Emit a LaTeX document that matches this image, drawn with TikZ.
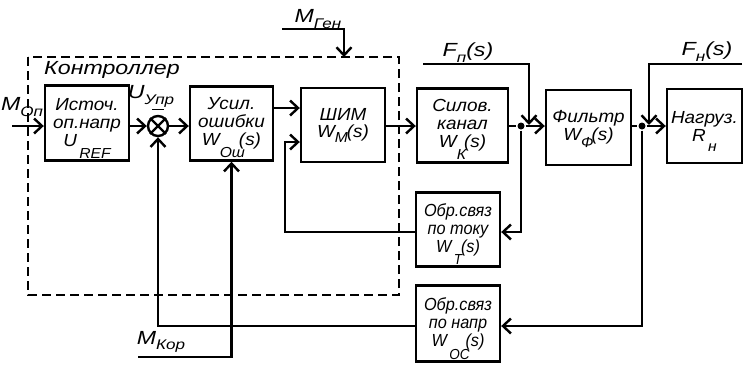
\documentclass[tikz,border=0pt]{standalone}
\usepackage{fontspec}
\newfontfamily\df{Liberation Sans}[ItalicFeatures={FakeStretch=1.08}]
\newfontfamily\dfn{Liberation Sans}[ItalicFeatures={FakeStretch=0.93}]
\newfontfamily\lf{Liberation Sans}[ItalicFeatures={FakeStretch=1.22}]
\usetikzlibrary{arrows.meta}
\newcommand\lsub[3]{#2\raisebox{-#1}[0pt][0pt]{\fontsize{14.5}{14.5}\selectfont #3}}
\newcommand\lbsub[3]{#2\raisebox{-#1}[0pt][0pt]{\fontsize{14}{14}\selectfont #3}}
\begin{document}
\begin{tikzpicture}[x=1pt,y=-1pt,line width=2.4pt,
  every node/.style={font=\df\itshape\fontsize{17.5}{18}\selectfont, inner sep=0pt},
  blk/.style={draw, minimum width=84pt, minimum height=75pt, align=center},
  fbk/.style={blk, font=\dfn\itshape\fontsize{17.5}{18}\selectfont},
  lbl/.style={font=\lf\itshape\fontsize{19}{20}\selectfont},
  arr/.style={-{Straight Barb[length=8pt,width=15pt,line width=2.4pt]}},
  dot/.style={circle, fill, minimum size=7pt},
  ctrl/.style={dash pattern=on 9pt off 5pt}]
\useasboundingbox (0,0) rectangle (745,365);
% blocks
\node[blk] (src) at (87,123) {Источ.\\оп.напр\\\lsub{0.68em}{U}{\,REF}};
\node[draw,circle,minimum size=20pt] (sum) at (158,126) {};
\draw (sum.north west) -- (sum.south east) (sum.north east) -- (sum.south west);
\node[blk, minimum width=83pt, minimum height=74pt] (amp) at (231.5,123.5) {Усил.\\ошибки\\\lsub{0.68em}{W}{Ош}\kern-6pt(s)};
\node[blk, minimum height=74pt] (pwm) at (343,125) {ШИМ\\[-1pt]\lsub{0.3em}{W}{M}\kern-1pt(s)};
\node[blk, minimum width=91pt, minimum height=74pt] (pow) at (462.5,125.5) {Силов.\\канал\\\lsub{0.68em}{W}{К}\kern-2pt(s)};
\node[blk, minimum width=85pt] (filt) at (588.5,127.5) {Фильтр\\\lsub{0.4em}{W}{Ф}\kern-2pt(s)};
\node[blk, minimum width=75pt, minimum height=74pt] (load) at (704.5,126) {Нагруз.\\\lsub{0.6em}{R}{\,н}};
\node[fbk, minimum height=74pt] (fbi) at (458,229.5) {Обр.связ\\по току\\\lsub{0.7em}{W}{\,Т}\kern-1pt(s)};
\node[fbk, minimum height=76pt] (fbv) at (458,323.5) {Обр.связ\\по напр\\\lsub{0.75em}{W}{\,ОС}\kern-4pt(s)};
% controller frame
\draw[ctrl] (28,57) rectangle (399,295);
\node[lbl] (ctl) at (112,70) {Контроллер};
% coordinates
\coordinate (inM) at (12,126);
\node[dot] (d1) at (521,126) {};
\node[dot] (d2) at (642,126) {};
\coordinate (fp1) at (423,64);
\coordinate (fp2) at (529,64);
\coordinate (fn1) at (742,64);
\coordinate (fn2) at (649,64);
\coordinate (mg1) at (282,29);
\coordinate (mg2) at (344,29);
\coordinate (mk1) at (138,357);
% main path
\draw[arr] (inM) -- (src.west |- inM);
\draw[arr] (src.east |- sum) -- (sum.west);
\draw[arr] (sum.east) -- (amp.west |- sum);
\draw[arr] (amp.east |- 0,108) -- (pwm.west |- 0,108);
\draw[arr] (pwm.east |- 0,126) -- (pow.west |- 0,126);
\draw (pow.east |- d1) -- (d1);
\draw[arr] (d1) -- (filt.west |- d1);
\draw (filt.east |- d2) -- (d2);
\draw[arr] (d2) -- (load.west |- d2);
% disturbances
\draw[arr] (fp1) -- (fp2) -- (529,125);
\draw[arr] (fn1) -- (fn2) -- (649,125);
\draw[arr] (mg1) -- (mg2) -- (344,57);
\draw[arr] (mk1) -- (amp.south |- mk1) -- (amp.south);
% feedback
\draw[arr] (d1) -- (d1 |- 0,232) -- (fbi.east |- 0,232);
\draw[arr] (fbi.west |- 0,232) -- (285,232) -- (285,142) -- (pwm.west |- 0,142);
\draw[arr] (d2) -- (d2 |- 0,326) -- (fbv.east |- 0,326);
\draw[arr] (fbv.west |- 0,326) -- (sum.south |- 0,326) -- (sum.south);
% labels
\node[lbl] (lMop) at (22,104) {\lbsub{0.3em}{M}{Оп}};
\node[lbl] (lU) at (151,92) {\lbsub{0.3em}{U}{Упр}};
\draw[line width=1.2pt] (152,109.5) -- (164,109.5);
\node[lbl] (lMg) at (318,16) {\lbsub{0.3em}{M}{Ген}};
\node[lbl] (lFp) at (468,52) {\lbsub{0.3em}{F}{п}(s)};
\node[lbl] (lFn) at (707,51) {\lbsub{0.3em}{F}{н}(s)};
\node[lbl] (lMk) at (161,338) {\lbsub{0.25em}{M}{Кор}};
\end{tikzpicture}
\end{document}
